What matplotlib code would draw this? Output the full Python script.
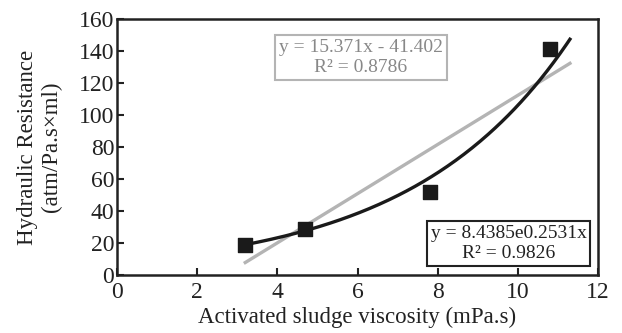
import numpy as np
import matplotlib
matplotlib.use("Agg")
import matplotlib.pyplot as plt

plt.rcParams['font.family'] = ['Liberation Serif', 'DejaVu Serif']

viscosity = [3.2, 4.7, 7.8, 10.8]
resistance = [19, 29, 52, 141]
lin_slope, lin_intercept = 15.371, -41.402
exp_a, exp_b = 8.4385, 0.2531
fit_range = [3.2, 11.3]
xticks = [0, 2, 4, 6, 8, 10, 12]
yticks = [0, 20, 40, 60, 80, 100, 120, 140, 160]

fig = plt.figure(figsize=(6.22, 3.33), dpi=100)
ax = fig.add_axes([117/622, 1-275/333, 481/622, 256/333])

xf = np.linspace(fit_range[0], fit_range[1], 200)
ax.plot(xf, lin_slope*xf + lin_intercept, color='#b4b4b4', lw=2.4, zorder=2)
ax.plot(xf, exp_a*np.exp(exp_b*xf), color='#1a1a1a', lw=2.4, zorder=3)
ax.scatter(viscosity, resistance, marker='s', s=100, color='#1a1a1a', zorder=4)

ax.set_xlim(0, 12)
ax.set_ylim(0, 160)
ax.set_xticks(xticks)
ax.set_yticks(yticks)
ax.tick_params(direction='in', length=5, width=1.5, labelsize=17, colors='#222222')
ax.tick_params(axis='x', pad=5)
ax.tick_params(axis='y', pad=2)
for s in ax.spines.values():
    s.set_linewidth(1.8)
    s.set_color('#222222')

ax.set_xlabel('Activated sludge viscosity (mPa.s)', fontsize=16.5, color='#222222', labelpad=3)
ax.set_ylabel('Hydraulic Resistance\n(atm/Pa.s×ml)', fontsize=16.5, color='#222222', labelpad=12, linespacing=1.15)

ax.text(0.507, 0.85, 'y = 15.371x - 41.402\nR² = 0.8786', transform=ax.transAxes,
        ha='center', va='center', fontsize=14, color='#888888', linespacing=1.2,
        bbox=dict(boxstyle='square,pad=0.2', fc='white', ec='#b4b4b4', lw=1.5))
ax.text(0.814, 0.123, 'y = 8.4385e0.2531x\nR² = 0.9826', transform=ax.transAxes,
        ha='center', va='center', fontsize=14, color='#222222', linespacing=1.2,
        bbox=dict(boxstyle='square,pad=0.2', fc='white', ec='#222222', lw=1.5))

fig.savefig('out.png', dpi=100)
